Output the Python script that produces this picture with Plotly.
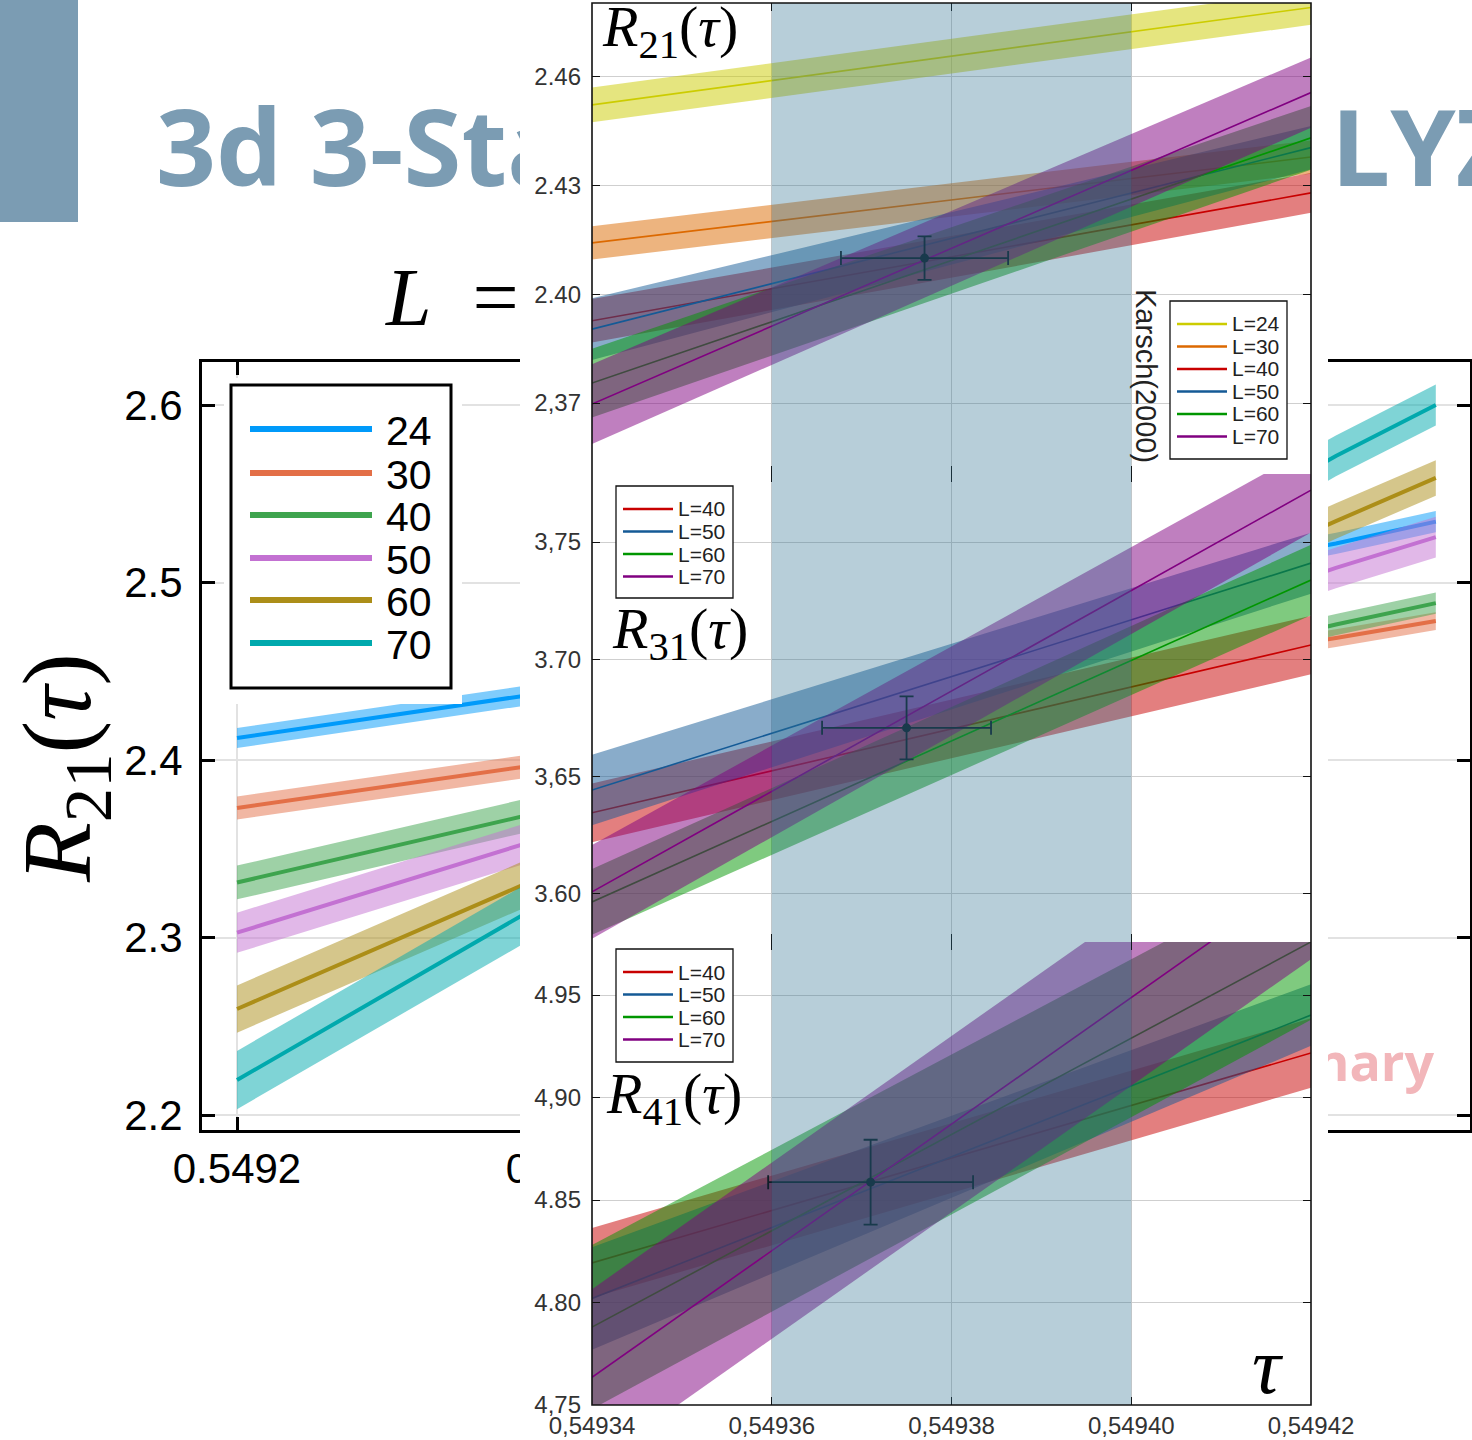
import plotly.graph_objects as go

W, H = 1472, 1440

# ---------------- background chart data (R21 vs tau, Plots.jl style) ----------------
bg_L = [24, 30, 40, 50, 60, 70]
bg_tau = [0.5492, 0.54929, 0.54953, 0.54956]
bg_r21_L24 = [2.4124, 2.4372, 2.5220, 2.5343]
bg_r21_L30 = [2.3730, 2.3972, 2.4687, 2.4783]
bg_r21_L40 = [2.3310, 2.3701, 2.4763, 2.4884]
bg_r21_L50 = [2.3027, 2.3549, 2.5082, 2.5256]
bg_r21_L60 = [2.2597, 2.3330, 2.5346, 2.5589]
bg_r21_L70 = [2.2197, 2.3172, 2.5713, 2.6000]
bg_err_L24 = [0.0056, 0.0056, 0.0060, 0.0060]
bg_err_L30 = [0.0065, 0.0065, 0.0050, 0.0050]
bg_err_L40 = [0.0095, 0.0095, 0.0060, 0.0060]
bg_err_L50 = [0.0113, 0.0113, 0.0115, 0.0115]
bg_err_L60 = [0.0133, 0.0133, 0.0100, 0.0100]
bg_err_L70 = [0.0164, 0.0164, 0.0115, 0.0115]
bg_colors = ["0,154,250", "227,111,71", "62,164,78", "195,113,210", "172,142,24", "0,169,173"]
bg_xtick_vals = [0.5492, 0.5493, 0.5494, 0.5495]
bg_xtick_text = ["0.5492", "0.5493", "0.5494", "0.5495"]
bg_ytick_vals = [2.2, 2.3, 2.4, 2.5, 2.6]
bg_ytick_text = ["2.2", "2.3", "2.4", "2.5", "2.6"]

# ---------------- overlay panels data ----------------
ov_tau = [0.54934, 0.54942]
r21_L = [24, 30, 40, 50, 60, 70]
r21_L24 = [2.4523, 2.4792]
r21_L30 = [2.4142, 2.4379]
r21_L40 = [2.3927, 2.4280]
r21_L50 = [2.3904, 2.4405]
r21_L60 = [2.3755, 2.4432]
r21_L70 = [2.3697, 2.4557]
r21_err_L24 = [0.0048, 0.0048]
r21_err_L30 = [0.0046, 0.0046]
r21_err_L40 = [0.0060, 0.0055]
r21_err_L50 = [0.0085, 0.0060]
r21_err_L60 = [0.0095, 0.0088]
r21_err_L70 = [0.0110, 0.0097]

r31_L = [40, 50, 60, 70]
r31_L40 = [3.6346, 3.7061]
r31_L50 = [3.6443, 3.7410]
r31_L60 = [3.5966, 3.7338]
r31_L70 = [3.6009, 3.7721]
r31_err_L40 = [0.0125, 0.0125]
r31_err_L50 = [0.0150, 0.0130]
r31_err_L60 = [0.0140, 0.0150]
r31_err_L70 = [0.0200, 0.0180]

r41_L = [40, 50, 60, 70]
r41_L40 = [4.8193, 4.9217]
r41_L50 = [4.8020, 4.9402]
r41_L60 = [4.7880, 4.9759]
r41_L70 = [4.7635, 5.0105]
r41_err_L40 = [0.0170, 0.0170]
r41_err_L50 = [0.0250, 0.0150]
r41_err_L60 = [0.0400, 0.0380]
r41_err_L70 = [0.0430, 0.0430]

cross_tau = [0.549377, 0.549375, 0.549371]
cross_tau_err = [0.0000093, 0.0000094, 0.0000114]
cross_r = [2.4100, 3.6708, 4.8587]
cross_r_err = [0.0060, 0.0134, 0.0207]

karsch_tau = [0.54936, 0.54940]

ov_color = {24: "204,204,0", 30: "220,105,0", 40: "200,0,0", 50: "20,90,150", 60: "0,150,0", 70: "128,0,128"}

ov_xtick_vals = [0.54934, 0.54936, 0.54938, 0.54940, 0.54942]
ov_xtick_text = ["0,54934", "0,54936", "0,54938", "0,54940", "0,54942"]
r21_ytick_vals = [2.37, 2.40, 2.43, 2.46]
r21_ytick_text = ["2,37", "2.40", "2.43", "2.46"]
r31_ytick_vals = [3.60, 3.65, 3.70, 3.75]
r31_ytick_text = ["3.60", "3,65", "3.70", "3,75"]
r41_ytick_vals = [4.75, 4.80, 4.85, 4.90, 4.95]
r41_ytick_text = ["4,75", "4.80", "4.85", "4,90", "4.95"]

SLIDE = "#7b9cb3"


def X(px):
    return px / W


def Y(py):
    return 1 - py / H


fig = go.Figure()

# ---------------- subplot 1: slide background text ----------------
slide_txt = dict(mode="text", xaxis="x", yaxis="y", showlegend=False, hoverinfo="skip")
fig.add_trace(go.Scatter(x=[156], y=[160], text=["3d 3-State Potts"], textposition="middle right",
                         textfont=dict(family="Open Sans", size=105, color=SLIDE, weight="bold"), **slide_txt))
fig.add_trace(go.Scatter(x=[1331], y=[160], text=["LYZ"], textposition="middle right",
                         textfont=dict(family="Open Sans", size=105, color=SLIDE, weight="bold"), **slide_txt))
fig.add_trace(go.Scatter(x=[386], y=[304], text=["<i>L</i>\u2002="], textposition="middle right",
                         textfont=dict(family="Liberation Serif", size=82, color="black"), **slide_txt))

# ---------------- subplot 2: background chart ----------------
bg_series = [bg_r21_L24, bg_r21_L30, bg_r21_L40, bg_r21_L50, bg_r21_L60, bg_r21_L70]
bg_errs = [bg_err_L24, bg_err_L30, bg_err_L40, bg_err_L50, bg_err_L60, bg_err_L70]
for L, m, e, c in zip(bg_L, bg_series, bg_errs, bg_colors):
    up = [a + b for a, b in zip(m, e)]
    lo = [a - b for a, b in zip(m, e)]
    fig.add_trace(go.Scatter(x=bg_tau + bg_tau[::-1], y=up + lo[::-1], fill="toself",
                             fillcolor=f"rgba({c},0.5)", line=dict(width=0), mode="lines",
                             xaxis="x2", yaxis="y2", showlegend=False, hoverinfo="skip"))
    fig.add_trace(go.Scatter(x=bg_tau, y=m, mode="lines", line=dict(color=f"rgb({c})", width=4),
                             xaxis="x2", yaxis="y2", showlegend=False, name=str(L)))

BG_X0, BG_X1 = 0.5492 - 35 / 3.33e6, 0.5492 + 1233 / 3.33e6
BG_Y0, BG_Y1 = 2.2 - 15 / 1775, 2.6 + 43 / 1775
fig.add_trace(go.Scatter(x=[0.5492 + (1434 - 237) / 3.33e6], y=[2.6 - (1068 - 405) / 1775],
                         text=["Preliminary"], mode="text", textposition="middle left",
                         textfont=dict(family="Open Sans", size=52, color="#f2b6ba", weight="bold"),
                         xaxis="x2", yaxis="y2", showlegend=False, hoverinfo="skip"))

# ---------------- subplot 3: white cover under the inset ----------------
fig.add_trace(go.Scatter(x=[520, 1328, 1328, 520, 520], y=[0, 0, 1440, 1440, 0], fill="toself",
                         fillcolor="white", line=dict(width=0), mode="lines",
                         xaxis="x3", yaxis="y3", showlegend=False, hoverinfo="skip"))

# ---------------- subplots 4-6: inset panels ----------------
panels = [
    ("x4", "y4", r21_L, [r21_L24, r21_L30, r21_L40, r21_L50, r21_L60, r21_L70],
     [r21_err_L24, r21_err_L30, r21_err_L40, r21_err_L50, r21_err_L60, r21_err_L70]),
    ("x5", "y5", r31_L, [r31_L40, r31_L50, r31_L60, r31_L70],
     [r31_err_L40, r31_err_L50, r31_err_L60, r31_err_L70]),
    ("x6", "y6", r41_L, [r41_L40, r41_L50, r41_L60, r41_L70],
     [r41_err_L40, r41_err_L50, r41_err_L60, r41_err_L70]),
]
for i, (xa, ya, Ls, means, errs) in enumerate(panels):
    for L, m, e in zip(Ls, means, errs):
        c = ov_color[L]
        up = [a + b for a, b in zip(m, e)]
        lo = [a - b for a, b in zip(m, e)]
        fig.add_trace(go.Scatter(x=ov_tau + ov_tau[::-1], y=up + lo[::-1], fill="toself",
                                 fillcolor=f"rgba({c},0.5)", line=dict(width=0), mode="lines",
                                 xaxis=xa, yaxis=ya, showlegend=False, hoverinfo="skip"))
        fig.add_trace(go.Scatter(x=ov_tau, y=m, mode="lines", line=dict(color=f"rgb({c})", width=1.6),
                                 xaxis=xa, yaxis=ya, showlegend=False, name=f"L={L}"))
    fig.add_trace(go.Scatter(x=[cross_tau[i]], y=[cross_r[i]], mode="markers",
                             marker=dict(color="#0f1f29", size=9),
                             error_x=dict(type="data", array=[cross_tau_err[i]], color="#0f1f29", thickness=1.8, width=7),
                             error_y=dict(type="data", array=[cross_r_err[i]], color="#0f1f29", thickness=1.8, width=7),
                             xaxis=xa, yaxis=ya, showlegend=False))

# ---------------- layout ----------------
paper_ax = dict(domain=[0, 1], visible=False, showgrid=False, zeroline=False, fixedrange=True, automargin=False)
layout = dict(
    template="none",
    width=W, height=H, margin=dict(l=0, r=0, t=0, b=0, pad=0, autoexpand=False),
    paper_bgcolor="white", plot_bgcolor="rgba(0,0,0,0)", showlegend=False,
    xaxis=dict(range=[0, W], **paper_ax),
    yaxis=dict(range=[H, 0], **paper_ax),
    xaxis3=dict(range=[0, W], **paper_ax),
    yaxis3=dict(range=[H, 0], **paper_ax),
    xaxis2=dict(domain=[X(202), X(1470)], range=[BG_X0, BG_X1], anchor="y2", automargin=False,
                tickvals=bg_xtick_vals, ticktext=bg_xtick_text,
                showline=True, linecolor="black", linewidth=3, mirror="ticks",
                ticks="inside", ticklen=13, tickwidth=3, tickcolor="black",
                showgrid=True, gridcolor="#e2e2e2", gridwidth=1.5, zeroline=False,
                tickfont=dict(family="Liberation Sans", size=42, color="black"),
                ticklabelstandoff=0),
    yaxis2=dict(domain=[Y(1130), Y(362)], range=[BG_Y0, BG_Y1], anchor="x2", automargin=False,
                tickvals=bg_ytick_vals, ticktext=bg_ytick_text,
                showline=True, linecolor="black", linewidth=3, mirror="ticks",
                ticks="inside", ticklen=13, tickwidth=3, tickcolor="black",
                showgrid=True, gridcolor="#e2e2e2", gridwidth=1.5, zeroline=False,
                tickfont=dict(family="Liberation Sans", size=42, color="black"),
                ticklabelstandoff=8),
)
panel_dom = [[Y(474), Y(3)], [Y(942), Y(474)], [Y(1405), Y(942)]]
panel_rng = [[2.37 - 71 * 0.03 / 108.7, 2.46 + 74 * 0.03 / 108.7],
             [3.60 - 48 * 0.05 / 117.3, 3.75 + 68 * 0.05 / 117.3],
             [4.75, 4.95 + 53 * 0.05 / 102.5]]
ytv = [(r21_ytick_vals, r21_ytick_text), (r31_ytick_vals, r31_ytick_text), (r41_ytick_vals, r41_ytick_text)]
for k in range(3):
    n = k + 4
    layout[f"xaxis{n}"] = dict(domain=[X(592), X(1311)], range=[ov_tau[0], ov_tau[-1]], anchor=f"y{n}",
                               automargin=False,
                               tickvals=ov_xtick_vals, ticktext=ov_xtick_text,
                               showticklabels=(k == 2), showline=False, mirror="ticks",
                               ticks="inside", ticklen=8, tickwidth=1.3, tickcolor="#111",
                               showgrid=True, gridcolor="#cfcfcf", gridwidth=1, zeroline=False,
                               tickfont=dict(family="Liberation Sans", size=24, color="#333"),
                               ticklabelstandoff=4)
    layout[f"yaxis{n}"] = dict(domain=panel_dom[k], range=panel_rng[k], anchor=f"x{n}",
                               automargin=False,
                               tickvals=ytv[k][0], ticktext=ytv[k][1],
                               showline=False, mirror="ticks",
                               ticks="inside", ticklen=8, tickwidth=1.3, tickcolor="#111",
                               showgrid=True, gridcolor="#cfcfcf", gridwidth=1, zeroline=False,
                               tickfont=dict(family="Liberation Sans", size=24, color="#333"),
                               ticklabelstandoff=10)


def ov_px(t):
    return 592 + (t - ov_tau[0]) / (ov_tau[-1] - ov_tau[0]) * (1311 - 592)


shapes = []
shapes.append(dict(type="rect", xref="paper", yref="paper", x0=X(0), x1=X(78), y0=Y(222), y1=Y(0),
                   fillcolor=SLIDE, line=dict(width=0), layer="below"))
shapes.append(dict(type="rect", xref="paper", yref="paper", x0=X(224), x1=X(462), y0=Y(704), y1=Y(378),
                   fillcolor="white", line=dict(width=0), layer="above"))
shapes.append(dict(type="rect", xref="paper", yref="paper", x0=X(231), x1=X(451), y0=Y(688), y1=Y(385),
                   fillcolor="rgba(0,0,0,0)", line=dict(color="black", width=3), layer="above"))
bg_leg_y = [429, 473, 515, 558, 600, 643]
for yy, c in zip(bg_leg_y, bg_colors):
    shapes.append(dict(type="line", xref="paper", yref="paper", x0=X(250), x1=X(372), y0=Y(yy), y1=Y(yy),
                       line=dict(color=f"rgb({c})", width=6), layer="above"))
shapes.append(dict(type="rect", xref="paper", yref="paper", x0=X(ov_px(karsch_tau[0])), x1=X(ov_px(karsch_tau[1])),
                   y0=Y(1405), y1=Y(3), fillcolor="rgba(45,112,145,0.34)", line=dict(width=0), layer="above"))
shapes.append(dict(type="rect", xref="paper", yref="paper", x0=X(592), x1=X(1311), y0=Y(1405), y1=Y(3),
                   fillcolor="rgba(0,0,0,0)", line=dict(color="#111", width=1.6), layer="above"))
ov_legends = [
    ((1170, 1287, 301, 459), r21_L, [324, 346.5, 369, 391.5, 414, 436.5]),
    ((616, 733, 486, 598), r31_L, [509, 531.5, 554, 576.5]),
    ((616, 733, 949, 1062), r41_L, [972, 994.5, 1017, 1039.5]),
]
annotations = []
for (x0, x1, y0, y1), Ls, ys in ov_legends:
    shapes.append(dict(type="rect", xref="paper", yref="paper", x0=X(x0), x1=X(x1), y0=Y(y1), y1=Y(y0),
                       fillcolor="white", line=dict(color="#111", width=1.3), layer="above"))
    for L, yy in zip(Ls, ys):
        shapes.append(dict(type="line", xref="paper", yref="paper", x0=X(x0 + 7), x1=X(x0 + 57), y0=Y(yy), y1=Y(yy),
                           line=dict(color=f"rgb({ov_color[L]})", width=2.6), layer="above"))
        annotations.append(dict(x=X(x0 + 60), y=Y(yy), xref="paper", yref="paper", text=f"L={L}",
                                showarrow=False, xanchor="left", yanchor="middle",
                                font=dict(family="Liberation Sans", size=21, color="#222")))

for L, yy in zip(bg_L, bg_leg_y):
    annotations.append(dict(x=X(384), y=Y(yy + 2), xref="paper", yref="paper", text=str(L), showarrow=False,
                            xanchor="left", yanchor="middle",
                            font=dict(family="Liberation Sans", size=41, color="black")))
annotations.append(dict(x=X(64), y=Y(768), xref="paper", yref="paper",
                        text="<i>R</i><sub>21</sub>(<i>τ</i>)", textangle=-90, showarrow=False,
                        xanchor="center", yanchor="middle",
                        font=dict(family="Liberation Serif", size=98, color="black")))
serif = dict(family="Liberation Serif", size=58, color="black")
annotations.append(dict(x=X(600), y=Y(30), xref="paper", yref="paper",
                        text="<i>R</i><sub>21</sub>(<i>τ</i>)", showarrow=False,
                        xanchor="left", yanchor="middle", font=serif))
annotations.append(dict(x=X(610), y=Y(632), xref="paper", yref="paper",
                        text="<i>R</i><sub>31</sub>(<i>τ</i>)", showarrow=False,
                        xanchor="left", yanchor="middle", font=serif))
annotations.append(dict(x=X(604), y=Y(1097), xref="paper", yref="paper",
                        text="<i>R</i><sub>41</sub>(<i>τ</i>)", showarrow=False,
                        xanchor="left", yanchor="middle", font=serif))
annotations.append(dict(x=X(1268), y=Y(1366), xref="paper", yref="paper", text="<i>τ</i>", showarrow=False,
                        xanchor="center", yanchor="middle",
                        font=dict(family="Liberation Serif", size=80, color="black")))
annotations.append(dict(x=X(1146), y=Y(376), xref="paper", yref="paper", text="Karsch(2000)", showarrow=False,
                        textangle=90, xanchor="center", yanchor="middle",
                        font=dict(family="Liberation Sans", size=29, color="#222")))

layout["shapes"] = shapes
layout["annotations"] = annotations
fig.update_layout(**layout)

fig.write_html("out.html", config={"displayModeBar": False},
               post_script="document.body.style.margin='0';")
